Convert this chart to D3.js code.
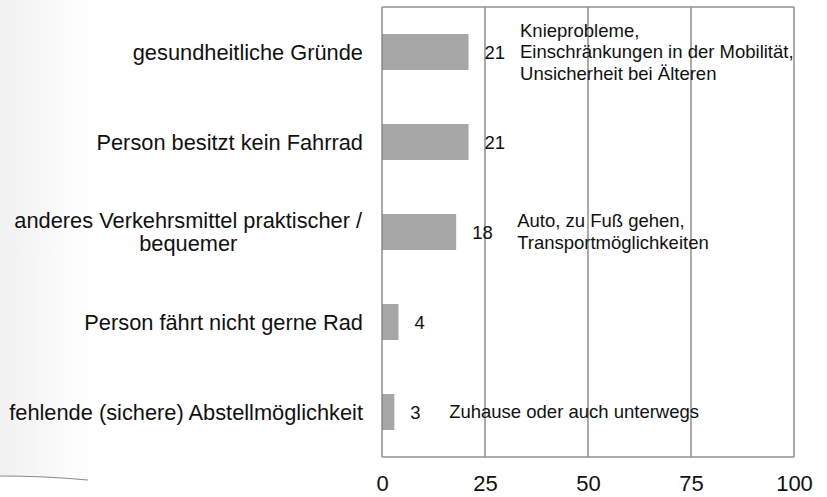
<!DOCTYPE html>
<html>
<head>
<meta charset="utf-8">
<script src="https://cdn.jsdelivr.net/npm/d3@7"></script>
<style>
  body { margin: 0; background: #fff; }
  svg { display: block; font-family: "Liberation Sans", Arial, sans-serif; }
</style>
</head>
<body>
<div id="chart"></div>
<script>
// Reasons for not cycling (values in %)
const categories = [
    ['gesundheitliche Gründe'],
    ['Person besitzt kein Fahrrad'],
    ['anderes Verkehrsmittel praktischer /', 'bequemer'],
    ['Person fährt nicht gerne Rad'],
    ['fehlende (sichere) Abstellmöglichkeit']
];
const values = [21, 21, 18, 4, 3];
const notes = [
    ['Knieprobleme,', 'Einschränkungen in der Mobilität,', 'Unsicherheit bei Älteren'],
    [],
    ['Auto, zu Fuß gehen,', 'Transportmöglichkeiten'],
    [],
    ['Zuhause oder auch unterwegs']
];
// where each note starts, in axis units
const noteAt = [33.5, 0, 32.8, 0, 16.3];
const ticks = [0, 25, 50, 75, 100];

const W = 827, H = 497;
const plot = {left: 382, right: 794, top: 7, bottom: 457};

const svg = d3.select('#chart').append('svg')
    .attr('width', W)
    .attr('height', H);

// faint page shadow on the left
const defs = svg.append('defs');
const grad = defs.append('linearGradient').attr('id', 'shade')
    .attr('x1', 0).attr('x2', 1).attr('y1', 0).attr('y2', 0);
grad.append('stop').attr('offset', '0%').attr('stop-color', '#f1f1f1');
grad.append('stop').attr('offset', '100%').attr('stop-color', '#ffffff');
svg.append('path')
    .attr('d', 'M0,0 L92,0 L92,480 Q40,476 0,476 Z')
    .attr('fill', 'url(#shade)');
svg.append('path')
    .attr('d', 'M0,476 Q45,476 88,480')
    .attr('fill', 'none')
    .attr('stroke', '#8a8a8a')
    .attr('stroke-width', 1.2);

const x = d3.scaleLinear().domain([0, 100]).range([plot.left, plot.right]);
const y = d3.scaleBand()
    .domain(d3.range(categories.length))
    .range([plot.top, plot.bottom])
    .paddingInner(0.6)
    .paddingOuter(0.3);

// bars
svg.selectAll('rect.bar')
    .data(values)
  .enter().append('rect')
    .attr('class', 'bar')
    .attr('x', x(0))
    .attr('y', (d, i) => y(i))
    .attr('width', d => x(d) - x(0))
    .attr('height', y.bandwidth())
    .attr('fill', '#a6a6a6');

// vertical grid lines incl. frame
svg.selectAll('line.grid')
    .data(ticks)
  .enter().append('line')
    .attr('class', 'grid')
    .attr('x1', d => x(d)).attr('x2', d => x(d))
    .attr('y1', plot.top).attr('y2', plot.bottom)
    .attr('stroke', '#868686')
    .attr('stroke-width', 1.4);
[plot.top, plot.bottom].forEach(yy => {
    svg.append('line')
        .attr('x1', plot.left).attr('x2', plot.right)
        .attr('y1', yy).attr('y2', yy)
        .attr('stroke', '#909090')
        .attr('stroke-width', 1.4);
});

// bottom axis labels
const xAxis = svg.append('g')
    .attr('transform', `translate(0,${plot.bottom})`)
    .call(d3.axisBottom(x).tickValues(ticks).tickSize(0).tickPadding(18));
xAxis.select('.domain').remove();
xAxis.selectAll('text')
    .style('font-family', '"Liberation Sans", Arial, sans-serif')
    .style('font-size', '22px')
    .attr('fill', '#111');

// category labels
const mid = i => y(i) + y.bandwidth() / 2;
categories.forEach((lines, i) => {
    const t = svg.append('text')
        .attr('text-anchor', 'middle')
        .style('font-size', '21.8px')
        .attr('fill', '#111');
    lines.forEach((line, j) => {
        t.append('tspan')
            .attr('x', 0)
            .attr('y', mid(i) + (j - (lines.length - 1) / 2) * 23 + 7.5)
            .text(line);
    });
    // right-align the whole block against the axis
    const bb = t.node().getBBox();
    t.attr('transform', `translate(${plot.left - 19 - (bb.x + bb.width)},0)`);
});

// value labels
svg.selectAll('text.value')
    .data(values)
  .enter().append('text')
    .attr('class', 'value')
    .attr('x', d => x(d) + 16)
    .attr('y', (d, i) => mid(i) + 6.5)
    .style('font-size', '18.5px')
    .attr('fill', '#111')
    .text(d => d);

// notes next to bars
notes.forEach((lines, i) => {
    if (!lines.length) return;
    const t = svg.append('text')
        .style('font-size', '18.5px')
        .attr('fill', '#111');
    lines.forEach((line, j) => {
        t.append('tspan')
            .attr('x', x(noteAt[i]))
            .attr('y', mid(i) + (j - (lines.length - 1) / 2) * 21.5 + 6)
            .text(line);
    });
});
</script>
</body>
</html>
